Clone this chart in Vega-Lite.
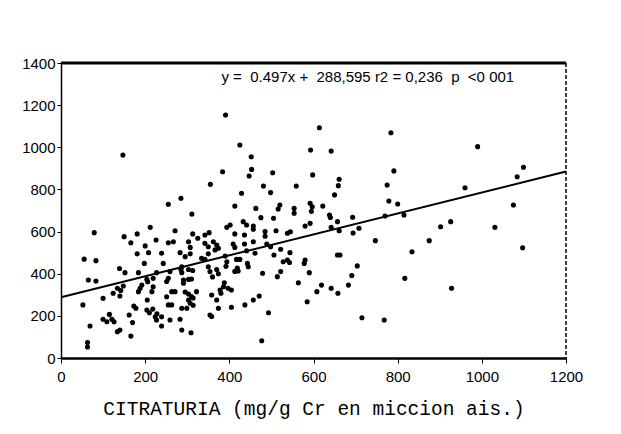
{
  "$schema": "https://vega.github.io/schema/vega-lite/v6.json",
  "width": 505,
  "height": 295,
  "autosize": {"type": "none"},
  "padding": {"left": 61, "top": 63, "right": 55, "bottom": 76},
  "background": "white",
  "config": {"view": {"stroke": null}, "font": "Liberation Sans"},
  "datasets": {
    "pts": [
      {"x":79,"y":595},{"x":55,"y":469},{"x":83,"y":462},{"x":65,"y":370},{"x":83,"y":365},{"x":52,"y":252},{"x":100,"y":283},{"x":69,"y":152},{"x":63,"y":73},{"x":63,"y":52},{"x":150,"y":576},{"x":181,"y":589},{"x":212,"y":620},{"x":226,"y":560},{"x":166,"y":547},{"x":200,"y":532},{"x":208,"y":500},{"x":181,"y":494},{"x":198,"y":449},{"x":139,"y":425},{"x":152,"y":405},{"x":184,"y":405},{"x":204,"y":373},{"x":227,"y":405},{"x":124,"y":307},{"x":134,"y":331},{"x":142,"y":320},{"x":140,"y":294},{"x":148,"y":342},{"x":188,"y":331},{"x":184,"y":315},{"x":192,"y":346},{"x":206,"y":362},{"x":219,"y":338},{"x":216,"y":315},{"x":219,"y":378},{"x":173,"y":247},{"x":178,"y":236},{"x":204,"y":228},{"x":210,"y":215},{"x":218,"y":232},{"x":228,"y":210},{"x":224,"y":195},{"x":162,"y":204},{"x":100,"y":184},{"x":109,"y":172},{"x":121,"y":184},{"x":126,"y":172},{"x":115,"y":207},{"x":170,"y":168},{"x":134,"y":125},{"x":140,"y":133},{"x":166,"y":104},{"x":205,"y":275},{"x":227,"y":180},
      {"x":271,"y":604},{"x":313,"y":589},{"x":342,"y":584},{"x":352,"y":595},{"x":394,"y":620},{"x":402,"y":631},{"x":433,"y":647},{"x":441,"y":631},{"x":413,"y":589},{"x":436,"y":584},{"x":255,"y":547},{"x":267,"y":552},{"x":303,"y":552},{"x":307,"y":525},{"x":325,"y":568},{"x":342,"y":544},{"x":350,"y":528},{"x":362,"y":552},{"x":370,"y":536},{"x":366,"y":513},{"x":374,"y":521},{"x":409,"y":541},{"x":413,"y":525},{"x":436,"y":541},{"x":441,"y":509},{"x":457,"y":552},{"x":239,"y":497},{"x":283,"y":500},{"x":295,"y":481},{"x":307,"y":494},{"x":334,"y":473},{"x":342,"y":468},{"x":350,"y":494},{"x":390,"y":484},{"x":394,"y":457},{"x":392,"y":435},{"x":417,"y":468},{"x":425,"y":468},{"x":443,"y":449},{"x":445,"y":433},{"x":419,"y":427},{"x":413,"y":411},{"x":421,"y":413},{"x":243,"y":449},{"x":259,"y":410},{"x":255,"y":378},{"x":251,"y":363},{"x":287,"y":433},{"x":285,"y":420},{"x":287,"y":405},{"x":291,"y":370},{"x":291,"y":355},{"x":303,"y":373},{"x":310,"y":375},{"x":303,"y":420},{"x":313,"y":415},{"x":350,"y":433},{"x":354,"y":410},{"x":370,"y":420},{"x":374,"y":400},{"x":360,"y":385},{"x":388,"y":357},{"x":386,"y":338},{"x":378,"y":323},{"x":380,"y":307},{"x":397,"y":331},{"x":405,"y":323},{"x":263,"y":315},{"x":271,"y":315},{"x":251,"y":291},{"x":295,"y":313},{"x":303,"y":304},{"x":310,"y":292},{"x":303,"y":275},{"x":307,"y":260},{"x":314,"y":250},{"x":314,"y":285},{"x":322,"y":315},{"x":255,"y":252},{"x":263,"y":252},{"x":287,"y":236},{"x":299,"y":236},{"x":358,"y":299},{"x":370,"y":275},{"x":374,"y":236},{"x":405,"y":241},{"x":437,"y":252},{"x":457,"y":275},{"x":354,"y":204},{"x":358,"y":197},{"x":239,"y":196},{"x":239,"y":152},{"x":259,"y":180},{"x":283,"y":184},{"x":287,"y":133},{"x":309,"y":120},
      {"x":457,"y":626},{"x":457,"y":611},{"x":485,"y":600},{"x":485,"y":578},{"x":511,"y":604},{"x":538,"y":592},{"x":545,"y":599},{"x":580,"y":626},{"x":592,"y":639},{"x":642,"y":620},{"x":657,"y":647},{"x":661,"y":604},{"x":489,"y":541},{"x":498,"y":528},{"x":461,"y":497},{"x":506,"y":489},{"x":522,"y":516},{"x":544,"y":500},{"x":528,"y":457},{"x":538,"y":465},{"x":543,"y":453},{"x":580,"y":465},{"x":578,"y":449},{"x":657,"y":489},{"x":663,"y":489},{"x":590,"y":405},{"x":479,"y":402},{"x":522,"y":410},{"x":514,"y":386},{"x":564,"y":357},{"x":619,"y":346},{"x":608,"y":315},{"x":642,"y":331},{"x":658,"y":307},{"x":683,"y":346},{"x":471,"y":294},{"x":585,"y":267},{"x":493,"y":215},{"x":477,"y":82},
      {"x":391,"y":1153},{"x":147,"y":963},{"x":425,"y":1011},{"x":452,"y":955},{"x":453,"y":895},{"x":447,"y":864},{"x":384,"y":884},{"x":503,"y":879},{"x":355,"y":824},{"x":481,"y":816},{"x":559,"y":816},{"x":498,"y":785},{"x":429,"y":782},{"x":285,"y":758},{"x":255,"y":730},{"x":413,"y":721},{"x":463,"y":710},{"x":520,"y":726},{"x":516,"y":707},{"x":554,"y":710},{"x":554,"y":687},{"x":311,"y":683},{"x":475,"y":666},{"x":505,"y":663},{"x":614,"y":1093},{"x":593,"y":987},{"x":642,"y":982},{"x":598,"y":869},{"x":661,"y":848},{"x":659,"y":818},{"x":650,"y":774},{"x":592,"y":734},{"x":597,"y":718},{"x":622,"y":721},{"x":595,"y":696},{"x":638,"y":679},{"x":640,"y":667},
      {"x":784,"y":1069},{"x":791,"y":888},{"x":775,"y":821},{"x":1099,"y":905},{"x":1084,"y":860},{"x":960,"y":808},{"x":990,"y":1003},{"x":1075,"y":726},{"x":693,"y":668},{"x":694,"y":593},{"x":708,"y":616},{"x":770,"y":674},{"x":779,"y":745},{"x":800,"y":731},{"x":815,"y":679},{"x":747,"y":557},{"x":875,"y":557},{"x":902,"y":623},{"x":926,"y":647},{"x":1031,"y":620},{"x":1097,"y":523},{"x":834,"y":504},{"x":704,"y":437},{"x":691,"y":391},{"x":817,"y":378},{"x":928,"y":331},{"x":715,"y":191},{"x":768,"y":180}
    ],
    "fit": [{"x": 0, "y": 288.6}, {"x": 1200, "y": 885}],
    "ann": [{"x": 729, "y": 1334, "label": "y =\u00a0 0.497x +\u00a0 288,595 r2 = 0,236\u00a0 p\u00a0 <0 001"}],
    "topb": [{"y": 1400}],
    "rightb": [{"x": 1200}]
  },
  "layer": [
    {
      "data": {"name": "pts"},
      "mark": {"type": "circle", "size": 26, "color": "black", "opacity": 1},
      "encoding": {
        "x": {
          "field": "x", "type": "quantitative",
          "scale": {"domain": [0, 1200], "nice": false, "zero": false},
          "axis": {
            "orient": "bottom",
            "values": [0, 200, 400, 600, 800, 1000, 1200],
            "format": "d",
            "grid": false,
            "domainColor": "black", "domainWidth": 2.5,
            "tickColor": "black", "tickSize": 5,
            "labelColor": "black", "labelFontSize": 15, "labelPadding": 6, "labelFlush": false,
            "title": "CITRATURIA (mg/g Cr en miccion ais.)",
            "titleFont": "Liberation Mono", "titleFontSize": 19.5, "titleFontWeight": "normal",
            "titleColor": "black", "titlePadding": 15
          }
        },
        "y": {
          "field": "y", "type": "quantitative",
          "scale": {"domain": [0, 1400], "nice": false, "zero": false},
          "axis": {
            "orient": "left",
            "values": [0, 200, 400, 600, 800, 1000, 1200, 1400],
            "format": "d",
            "grid": false,
            "domainColor": "black", "domainWidth": 1.5,
            "tickColor": "black", "tickSize": 4,
            "labelColor": "black", "labelFontSize": 15, "labelPadding": 2, "labelFlush": false,
            "title": null
          }
        }
      }
    },
    {
      "data": {"name": "fit"},
      "mark": {"type": "line", "color": "black", "strokeWidth": 2},
      "encoding": {
        "x": {"field": "x", "type": "quantitative"},
        "y": {"field": "y", "type": "quantitative"}
      }
    },
    {
      "data": {"name": "topb"},
      "mark": {"type": "rule", "color": "black", "strokeWidth": 3},
      "encoding": {
        "y": {"field": "y", "type": "quantitative"}
      }
    },
    {
      "data": {"name": "rightb"},
      "mark": {"type": "rule", "color": "black", "strokeWidth": 1.5, "strokeDash": [4, 2]},
      "encoding": {
        "x": {"field": "x", "type": "quantitative"}
      }
    },
    {
      "data": {"name": "ann"},
      "mark": {"type": "text", "fontSize": 15, "color": "black", "align": "center", "baseline": "middle", "font": "Liberation Sans"},
      "encoding": {
        "x": {"field": "x", "type": "quantitative"},
        "y": {"field": "y", "type": "quantitative"},
        "text": {"field": "label"}
      }
    }
  ]
}
